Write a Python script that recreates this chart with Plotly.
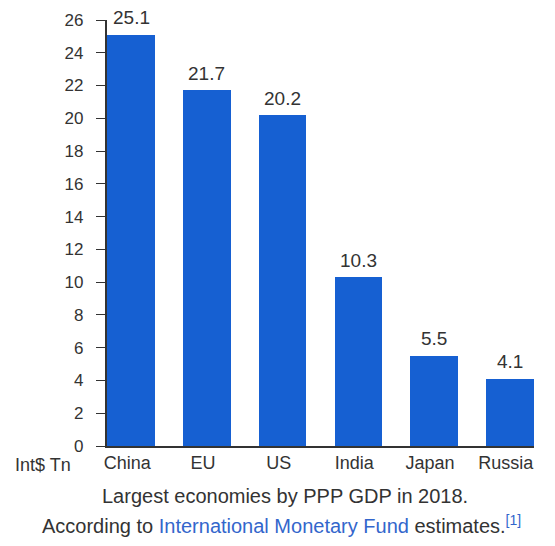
import plotly.graph_objects as go

categories = ["China", "EU", "US", "India", "Japan", "Russia"]
values = [25.1, 21.7, 20.2, 10.3, 5.5, 4.1]
value_labels = ["25.1", "21.7", "20.2", "10.3", "5.5", "4.1"]
y_ticks = list(range(0, 27, 2))

BAR = "#1660d2"
TXT = "#333333"
FONT = "Liberation Sans, Arial, sans-serif"

W, H = 555, 546
L, R, T, B = 107, 21, 20, 100

xs = list(range(len(categories)))
fig = go.Figure(go.Bar(
    x=xs,
    y=values,
    width=0.63,
    marker=dict(color=BAR, line=dict(width=0)),
    hoverinfo="x+y",
))

for xi, v, lab in zip(xs, values, value_labels):
    fig.add_annotation(x=xi, y=v, xref="x", yref="y", text=lab, showarrow=False,
                       yanchor="middle", yshift=17, font=dict(size=19, color=TXT))

fig.update_layout(
    width=W, height=H,
    margin=dict(l=L, r=R, t=T, b=B),
    paper_bgcolor="white", plot_bgcolor="white",
    showlegend=False,
    font=dict(family=FONT, color=TXT, size=18),
    bargap=0,
)
fig.update_xaxes(
    range=[-0.32, 5.32],
    tickvals=xs, ticktext=categories,
    showline=True, linecolor="#333333", linewidth=1.5,
    showgrid=False, zeroline=False, ticks="",
    ticklabelshift=-4,
    tickfont=dict(size=18, color=TXT),
)
fig.update_yaxes(
    range=[0, 26], tickvals=y_ticks,
    ticktext=[f"{t}\u00a0\u00a0" for t in y_ticks],
    showline=True, linecolor="#333333", linewidth=1.5,
    ticks="outside", ticklen=9, tickcolor="#333333", tickwidth=1.2,
    showgrid=False, zeroline=False,
    tickfont=dict(size=17, color=TXT),
)

plot_h = H - T - B
def py(pix):
    return (H - B - pix) / plot_h

def px(pix):
    return (pix - L) / (W - L - R)

fig.add_annotation(x=px(73), y=py(465), xref="paper", yref="paper", xanchor="right", yanchor="middle",
                   text="Int$ Tn", showarrow=False, font=dict(size=18, color=TXT))
fig.add_annotation(x=px(285), y=py(496), xref="paper", yref="paper", showarrow=False, yanchor="middle",
                   text="Largest economies by PPP GDP in 2018.", font=dict(size=20, color=TXT))
fig.add_annotation(x=px(281), y=py(524), xref="paper", yref="paper", showarrow=False, yanchor="middle",
                   text="According to <span style='color:#3366cc'>International Monetary Fund</span> estimates.<sup><span style='color:#3366cc'>[1]</span></sup>",
                   font=dict(size=20, color=TXT))

fig.write_html("out.html", config={"displayModeBar": False},
               post_script="document.body.style.margin='0';document.body.style.overflow='hidden';")
